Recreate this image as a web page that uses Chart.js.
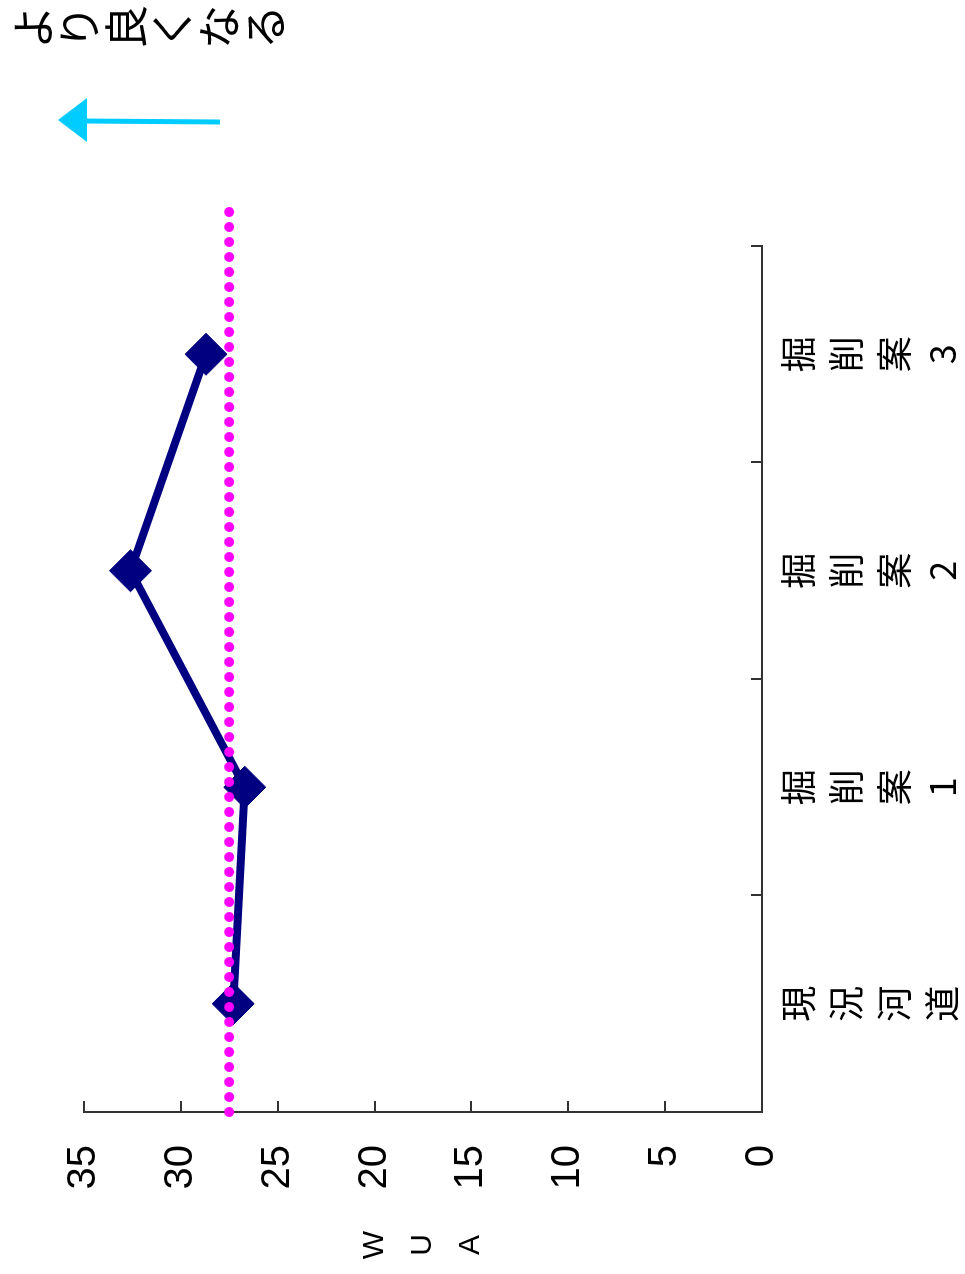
<!DOCTYPE html>
<html lang="ja">
<head>
<meta charset="utf-8">
<script src="https://cdn.jsdelivr.net/npm/chart.js@4.4.1/dist/chart.umd.min.js"></script>
<style>
  html, body { margin: 0; padding: 0; background: #fff; overflow: hidden; width: 965px; height: 1274px; }
  /* The chart is laid out upright and then turned a quarter turn counter-clockwise. */
  #frame {
    position: absolute; left: 0; top: 0;
    width: 1274px; height: 965px;
    transform-origin: 0 0;
    transform: translateY(1274px) rotate(-90deg);
  }
</style>
</head>
<body>
<div id="frame"><canvas id="chart"></canvas></div>
<script>
// Scenario names along the category axis
const categories = ['現況河道', '掘削案1', '掘削案2', '掘削案3'];
// WUA for each scenario
const wuaValues = [27.3, 26.7, 32.6, 28.7];
// Present-channel reference level and the category span it is drawn over
const referenceWua = 27.5;
const referenceSpan = [-0.5, 3.66];
// Value-axis tick labels
const valueTicks = [0, 5, 10, 15, 20, 25, 30, 35];
// Axis title and note text
const axisTitle = 'WUA';
const noteText = 'より良くなる';

const SANS = "'Liberation Sans', Arial, sans-serif";
const CJK = "'Noto Sans CJK JP', 'Noto Sans', sans-serif";
const AXIS = '#333333';

// Stacked axis title, the vertical note and its arrow
const notePlugin = {
  id: 'notes',
  afterDraw(chart) {
    const { ctx, chartArea: a, width } = chart;
    ctx.save();
    ctx.fillStyle = '#000';
    ctx.textAlign = 'center';
    ctx.textBaseline = 'middle';

    ctx.font = '30px ' + SANS;
    const cy = (a.top + a.bottom) / 2;
    [...axisTitle].forEach((ch, i) => ctx.fillText(ch, 29, cy + (i - 1) * 48));

    ctx.font = '44px ' + CJK;
    [...noteText].forEach((ch, i) => ctx.fillText(ch, width - 27, 33 + i * 46.5));

    // arrow pointing toward larger WUA
    const ax = width - 121;
    ctx.strokeStyle = '#00CCFF';
    ctx.fillStyle = '#00CCFF';
    ctx.lineWidth = 5;
    ctx.beginPath();
    ctx.moveTo(ax - 1, 220);
    ctx.lineTo(ax, 84);
    ctx.stroke();
    ctx.beginPath();
    ctx.moveTo(ax + 1, 58);
    ctx.lineTo(ax + 23, 87);
    ctx.lineTo(ax - 21, 87);
    ctx.closePath();
    ctx.fill();
    ctx.restore();
  }
};

new Chart(document.getElementById('chart'), {
  type: 'line',
  data: {
    labels: categories.map(c => [...c]),
    datasets: [
      {
        label: 'reference',
        xAxisID: 'x2',
        yAxisID: 'y',
        data: referenceSpan.map(x => ({ x, y: referenceWua })),
        borderColor: '#FF00FF',
        borderWidth: 10,
        borderDash: [0, 15],
        borderCapStyle: 'round',
        pointRadius: 0,
        tension: 0,
        clip: false
      },
      {
        label: 'WUA',
        xAxisID: 'x',
        yAxisID: 'y',
        data: wuaValues,
        borderColor: '#000080',
        borderWidth: 8,
        pointStyle: 'rectRot',
        pointRadius: 21,
        pointBackgroundColor: '#000080',
        pointBorderColor: '#000080',
        pointBorderWidth: 1,
        tension: 0
      }
    ]
  },
  options: {
    responsive: true,
    maintainAspectRatio: false,
    animation: false,
    events: [],
    layout: { padding: { left: 0, top: 84, right: 246, bottom: 0 } },
    plugins: { legend: { display: false }, tooltip: { enabled: false } },
    scales: {
      x: {
        type: 'category',
        position: 'bottom',
        offset: true,
        border: { display: true, color: AXIS, width: 2 },
        grid: { offset: true, drawOnChartArea: false, drawTicks: true, tickLength: -11, color: AXIS, lineWidth: 2 },
        ticks: {
          color: '#000',
          padding: 23,
          maxRotation: 0,
          minRotation: 0,
          autoSkip: false,
          font: { family: CJK, size: 36, lineHeight: '48px' }
        },
        afterFit(scale) { scale.height = 203; }
      },
      x2: {
        type: 'linear',
        display: false,
        min: -0.5,
        max: 3.5
      },
      y: {
        type: 'linear',
        position: 'left',
        min: valueTicks[0],
        max: valueTicks[valueTicks.length - 1],
        border: { display: true, color: AXIS, width: 2 },
        grid: { drawOnChartArea: false, drawTicks: true, tickLength: -11, color: AXIS, lineWidth: 2 },
        afterBuildTicks(scale) { scale.ticks = valueTicks.map(v => ({ value: v })); },
        ticks: {
          color: '#000',
          padding: 44,
          font: { family: SANS, size: 40 }
        },
        afterFit(scale) { scale.width = 162; }
      }
    }
  },
  plugins: [notePlugin]
});
</script>
</body>
</html>
